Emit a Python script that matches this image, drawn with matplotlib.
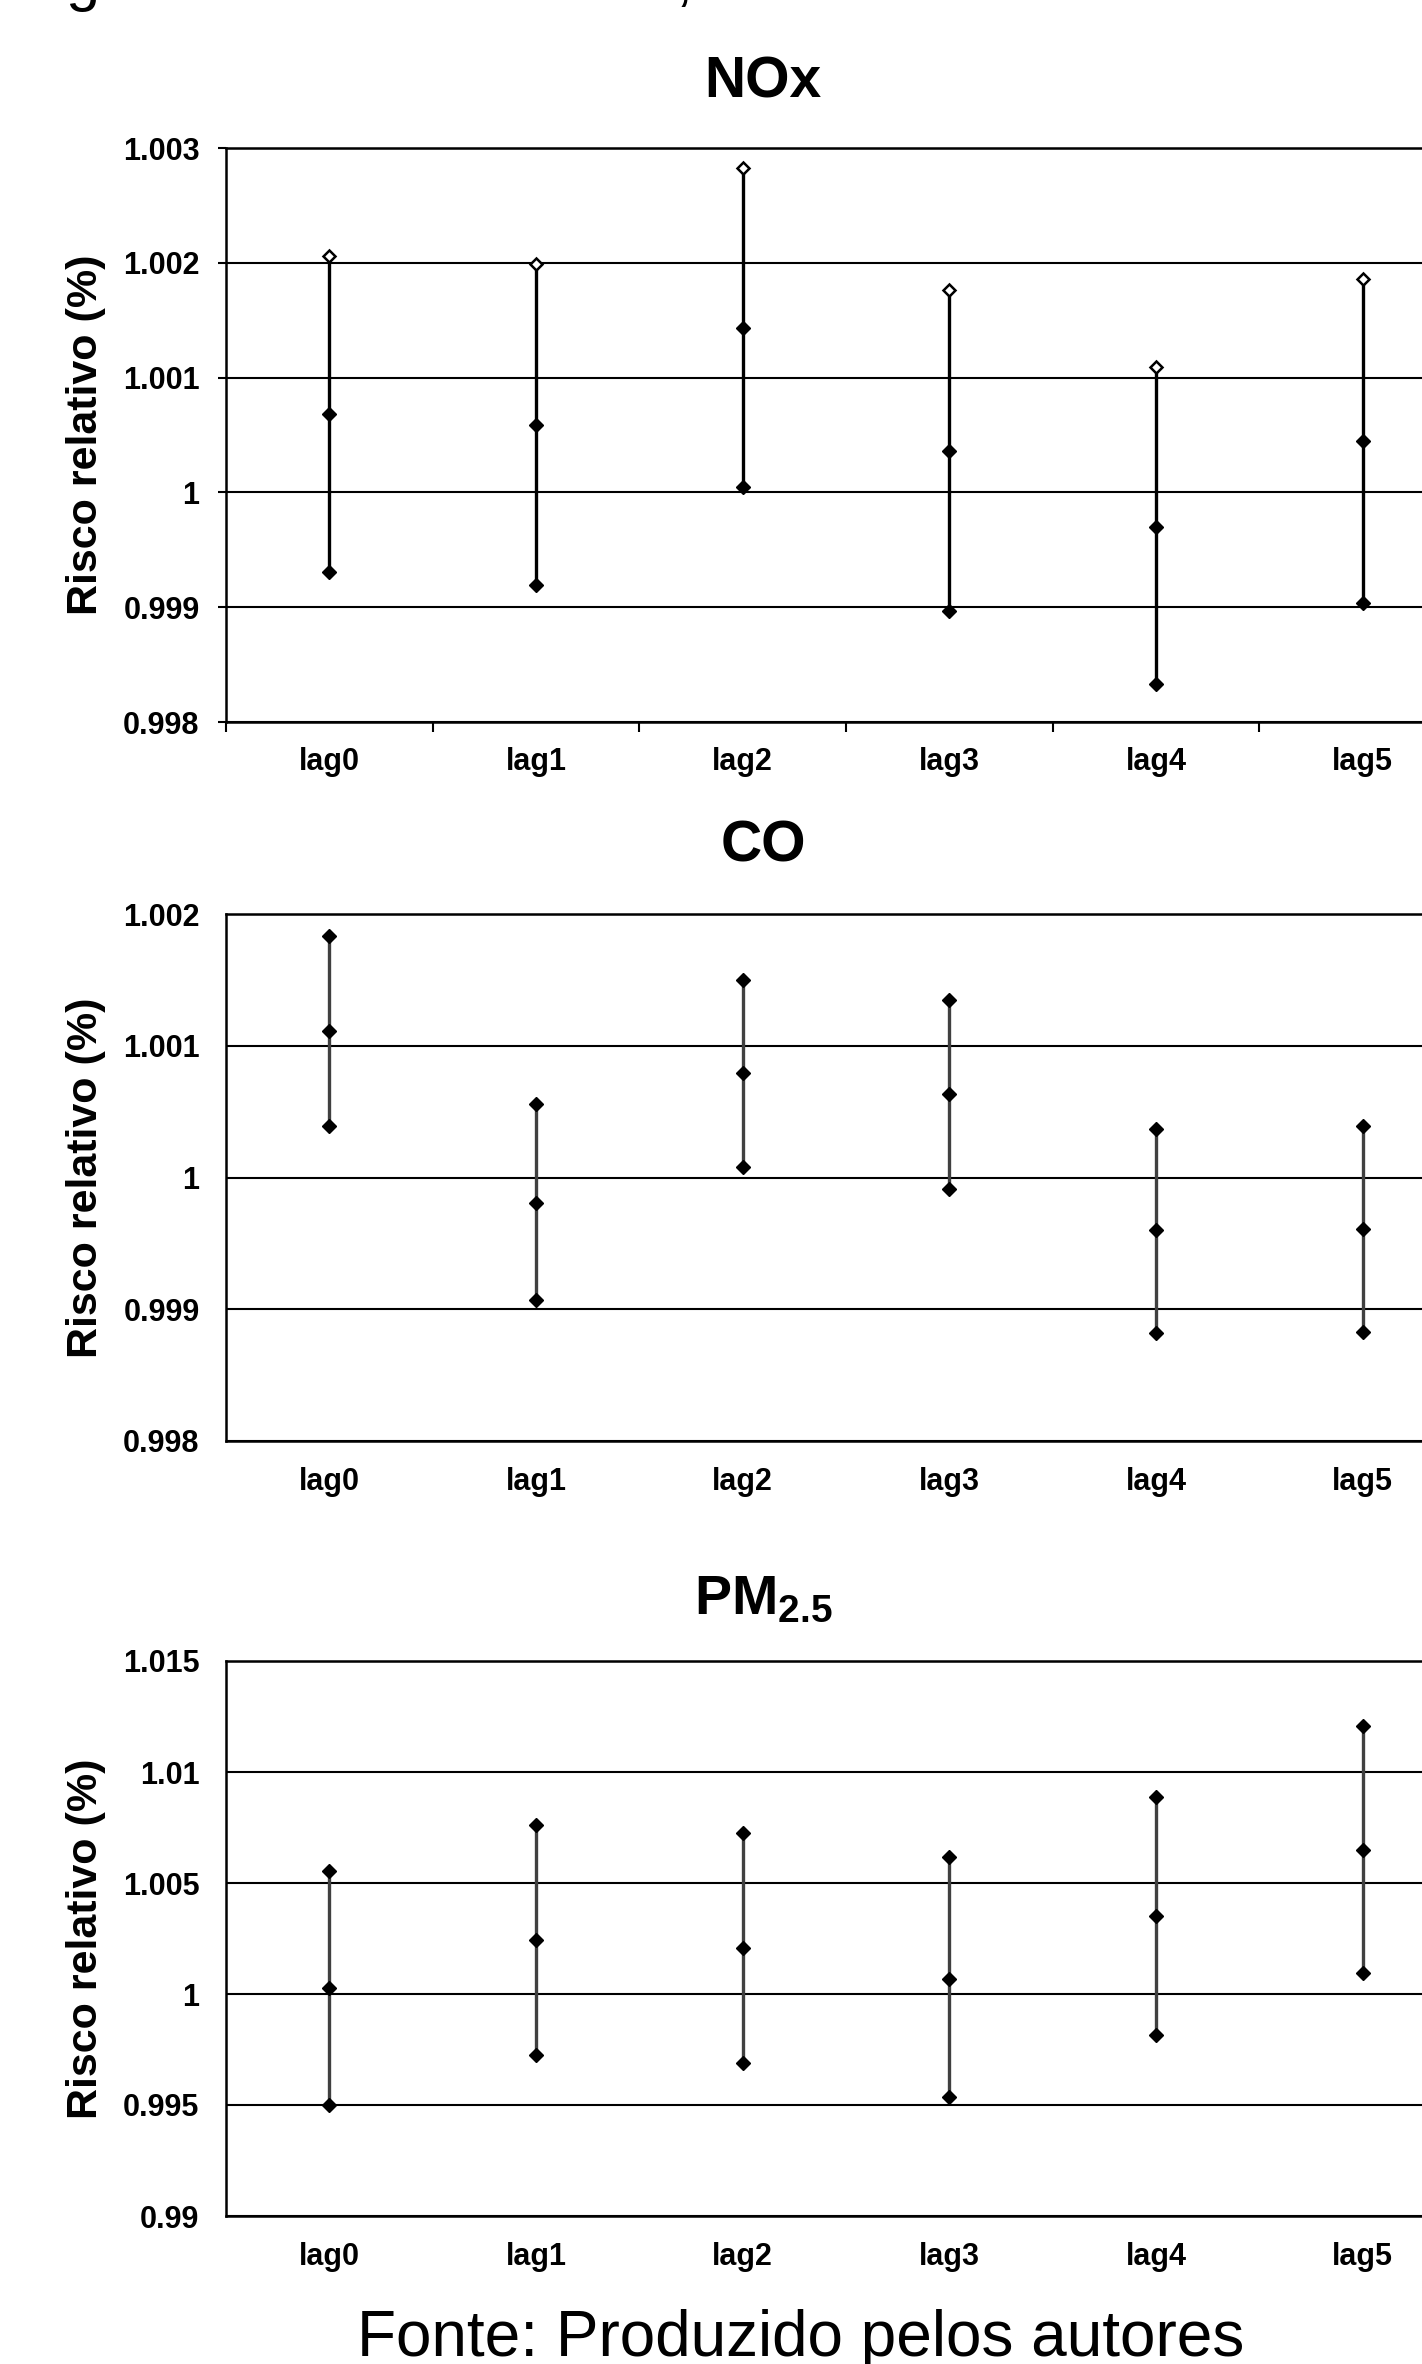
import matplotlib.pyplot as plt

plt.rcParams["font.family"] = ["Liberation Sans", "DejaVu Sans"]
plt.rcParams["mathtext.fontset"] = "custom"
plt.rcParams["mathtext.bf"] = "Liberation Sans:bold"
plt.rcParams["mathtext.rm"] = "Liberation Sans"

# dados
lags = ["lag0", "lag1", "lag2", "lag3", "lag4", "lag5"]

nox_inf = [0.99931, 0.99919, 1.00005, 0.99897, 0.99833, 0.99904]
nox_rr = [1.00068, 1.00059, 1.00143, 1.00036, 0.99970, 1.00045]
nox_sup = [1.00206, 1.00199, 1.00283, 1.00176, 1.00109, 1.00186]

co_inf = [1.00039, 0.99907, 1.00008, 0.99991, 0.99882, 0.99883]
co_rr = [1.00111, 0.99981, 1.00079, 1.00063, 0.99960, 0.99961]
co_sup = [1.00183, 1.00056, 1.00150, 1.00135, 1.00037, 1.00039]

pm_inf = [0.99500, 0.99726, 0.99687, 0.99537, 0.99816, 1.00094]
pm_rr = [1.00028, 1.00244, 1.00207, 1.00069, 1.00353, 1.00650]
pm_sup = [1.00553, 1.00760, 1.00726, 1.00615, 1.00887, 1.01207]

nox_ticks = [0.998, 0.999, 1, 1.001, 1.002, 1.003]
co_ticks = [0.998, 0.999, 1, 1.001, 1.002]
pm_ticks = [0.99, 0.995, 1, 1.005, 1.01, 1.015]

W, H = 1422, 2364
fig = plt.figure(figsize=(W / 100, H / 100), dpi=100)


def painel(top, bottom, inf, rr, sup, ticks, nox=False):
    left = 226 / W
    ax = fig.add_axes([left, 1 - bottom / H, 1240 / W, (bottom - top) / H])
    x = range(len(lags))
    if nox:
        ax.vlines(x, inf, sup, color="black", lw=2.4, zorder=3)
        ax.plot(x, inf, "D", color="black", ms=7, zorder=4)
        ax.plot(x, rr, "D", color="black", ms=7, zorder=4)
        ax.plot(x, sup, "D", mfc="white", mec="black", mew=1.8, ms=6.5, zorder=4)
    else:
        ax.vlines(x, inf, sup, color="#404040", lw=2.4, zorder=3)
        for serie in (inf, rr, sup):
            ax.plot(x, serie, "D", color="black", ms=7, zorder=4)
    ax.set_xlim(-0.5, 5.5)
    ax.set_ylim(ticks[0], ticks[-1])
    ax.set_yticks(ticks)
    ax.set_yticklabels([("%g" % t) for t in ticks])
    ax.set_xticks(list(x))
    ax.set_xticklabels(lags)
    ax.yaxis.grid(True, color="black", lw=1.5)
    ax.set_axisbelow(True)
    ax.spines["right"].set_visible(False)
    for s in ("left", "bottom", "top"):
        ax.spines[s].set_linewidth(1.8)
    if nox:
        ax.tick_params(axis="y", length=6, width=1.5, pad=13, labelsize=22)
        ax.set_xticks([i - 0.5 for i in range(7)], minor=True)
        ax.tick_params(axis="x", which="minor", length=7, width=1.5)
        ax.tick_params(axis="x", which="major", length=0, pad=18, labelsize=22)
    else:
        ax.tick_params(axis="y", length=0, pad=19, labelsize=22)
        ax.tick_params(axis="x", length=0, pad=19, labelsize=22)
    for lab in ax.get_xticklabels() + ax.get_yticklabels():
        lab.set_fontweight("bold")
    ax.set_ylabel("Risco relativo (%)", fontsize=31, fontweight="bold")
    ax.yaxis.set_label_coords(-0.097, 0.5)
    return ax


painel(148, 722, nox_inf, nox_rr, nox_sup, nox_ticks, nox=True)
painel(914, 1441, co_inf, co_rr, co_sup, co_ticks)
painel(1661, 2216, pm_inf, pm_rr, pm_sup, pm_ticks)

fig.text(763 / W, 1 - 83 / H, "NOx", fontsize=41, fontweight="bold", ha="center", va="center")
fig.text(763 / W, 1 - 847 / H, "CO", fontsize=41, fontweight="bold", ha="center", va="center")
fig.text(763 / W, 1 - 1600 / H, r"$\mathbf{PM_{2.5}}$", fontsize=40, ha="center", va="center")

fig.text(801 / W, 1 - 2356 / H, "Fonte: Produzido pelos autores", fontsize=46,
         ha="center", va="baseline")

# restos da legenda cortada no topo
fig.text(65 / W, 1 + 1 / H, "g", fontsize=44, ha="left", va="baseline")
fig.text(676 / W, 1 + 1 / H, ",", fontsize=44, ha="left", va="baseline")

fig.savefig("out.png", dpi=100)
